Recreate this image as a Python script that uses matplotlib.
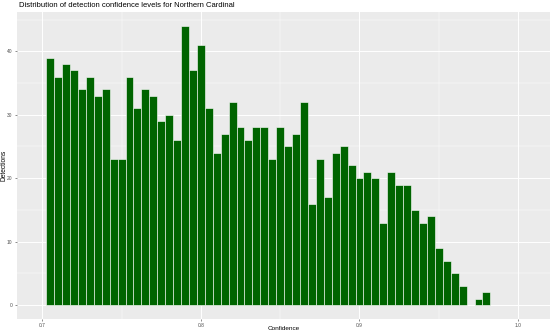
"""Histogram of detection confidence levels (Northern Cardinal)."""

import matplotlib
matplotlib.use("Agg")
import matplotlib.pyplot as plt
import numpy as np

plt.rcParams["font.family"] = ["Liberation Sans", "DejaVu Sans"]

# Bins : width 0.005, first bin starts at 0.7025
bin_width = 0.005
bin_start = 0.7025
counts = [
    39, 36, 38, 37, 34, 36, 33, 34, 23, 23,
    36, 31, 34, 33, 29, 30, 26, 44, 37, 41,
    31, 24, 27, 32, 28, 26, 28, 28, 23, 28,
    25, 27, 32, 16, 23, 17, 24, 25, 22, 20,
    21, 20, 13, 21, 19, 19, 15, 13, 14, 9,
    7, 5, 3, 0, 1, 2,
]
x_ticks = [0.7, 0.8, 0.9, 1.0]
x_tick_labels = ["0.7", "0.8", "0.9", "1.0"]
y_ticks = [0, 10, 20, 30, 40]

title = "Distribution of detection confidence levels for Northern Cardinal"

lefts = bin_start + bin_width * np.arange(len(counts))

fig = plt.figure(figsize=(5.53, 3.35), dpi=100)
ax = fig.add_axes([0.0302, 0.0478, 0.9644, 0.9164])
ax.set_facecolor("#EBEBEB")

ax.bar(lefts, counts, width=bin_width, align="edge",
       color="#006400", edgecolor="white", linewidth=0.4, zorder=3)

ax.set_xlim(0.6839, 1.0201)
ax.set_ylim(-2.2, 46.2)

ax.set_xticks(x_ticks)
ax.set_xticklabels(x_tick_labels)
ax.set_yticks(y_ticks)
ax.set_xticks([0.75, 0.85, 0.95], minor=True)
ax.set_yticks([5, 15, 25, 35, 45], minor=True)

ax.grid(which="major", color="white", linewidth=0.7, zorder=0)
ax.grid(which="minor", color="white", linewidth=0.35, zorder=0)
ax.set_axisbelow(True)

for s in ax.spines.values():
    s.set_visible(False)

ax.tick_params(which="major", length=1.5, width=0.4, color="#333333",
               labelsize=3.5, labelcolor="#4D4D4D", pad=1.5)
ax.tick_params(which="minor", length=0)

ax.set_xlabel("Confidence", fontsize=4.6, va="center")
ax.set_ylabel("Detections", fontsize=4.8, va="center")
ax.xaxis.set_label_coords(0.5, -0.0326)
ax.yaxis.set_label_coords(-0.0235, 0.5)
fig.text(0.034, 0.983, title, fontsize=5.5, ha="left", va="center")

fig.savefig("out.png", dpi=100)
plt.close(fig)
